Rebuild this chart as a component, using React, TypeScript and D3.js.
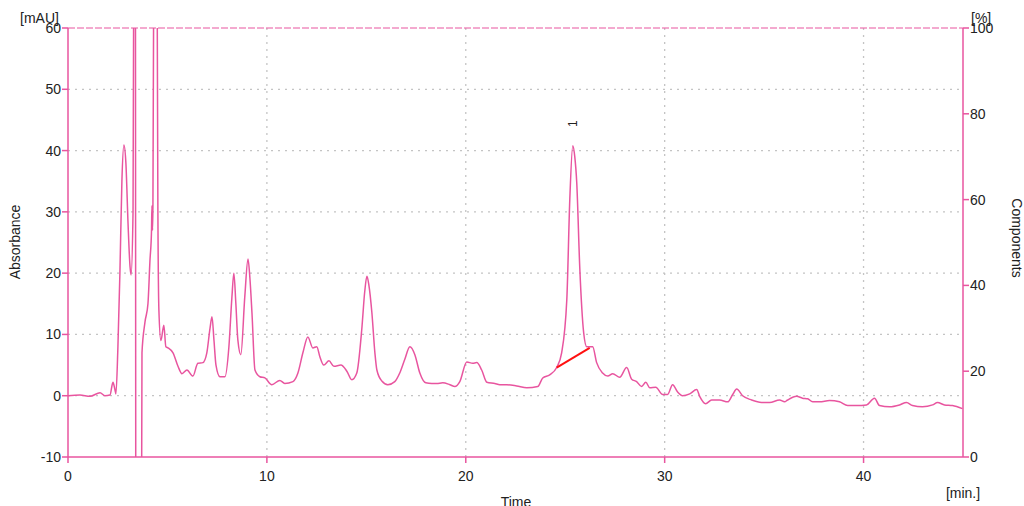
import React from "react";
import * as d3 from "d3";

// Chromatogram trace: retention time (min) and absorbance (mAU)
const times = [
  0.0, 0.6, 1.11, 1.61, 1.86, 2.11, 2.26, 2.36, 2.41, 2.51, 2.61, 2.71, 2.81, 2.91, 3.02, 3.12, 3.17, 3.27,
  3.32, 3.37, 3.42, 3.67, 3.72, 3.87, 4.02, 4.12, 4.2, 4.22, 4.25, 4.27, 4.32, 4.37, 4.47, 4.52, 4.57, 4.67,
  4.82, 4.92, 5.03, 5.28, 5.53, 5.73, 5.98, 6.28, 6.53, 6.78, 6.98, 7.14, 7.24, 7.34, 7.44, 7.64, 7.89, 8.09,
  8.24, 8.34, 8.44, 8.54, 8.69, 8.89, 9.05, 9.15, 9.25, 9.4, 9.65, 9.9, 10.25, 10.65, 10.9, 11.31, 11.56,
  11.81, 12.06, 12.31, 12.51, 12.66, 12.86, 13.12, 13.37, 13.72, 14.02, 14.27, 14.52, 14.77, 14.92, 15.03,
  15.13, 15.28, 15.43, 15.53, 15.78, 16.08, 16.43, 16.68, 16.93, 17.19, 17.44, 17.69, 17.99, 18.29, 18.54,
  18.84, 19.2, 19.45, 19.7, 20.05, 20.35, 20.55, 20.8, 21.06, 21.46, 21.71, 22.06, 22.56, 23.07, 23.62,
  23.87, 24.22, 24.57, 24.82, 25.08, 25.23, 25.38, 25.48, 25.58, 25.73, 25.93, 26.08, 26.38, 26.58, 26.88,
  27.14, 27.39, 27.74, 28.09, 28.34, 28.59, 28.84, 29.05, 29.25, 29.55, 29.9, 30.15, 30.4, 30.65, 30.9,
  31.26, 31.61, 31.76, 32.06, 32.36, 32.76, 33.17, 33.42, 33.62, 33.92, 34.37, 34.87, 35.28, 35.78, 36.03,
  36.18, 36.63, 36.93, 37.19, 37.44, 37.79, 38.29, 38.79, 39.2, 39.65, 40.15, 40.55, 40.8, 41.31, 41.81,
  42.16, 42.46, 42.96, 43.47, 43.72, 44.07, 44.47, 44.97,
];
const absorbance = [
  0.0, 0.1, -0.1, 0.5, 0.0, 0.1, 2.2, 1.0, 0.3, 8, 20, 35, 40.9, 38, 28, 21, 19.7, 30,
  90, 150, -50, -50, 7, 12, 15, 22, 27, 31, 27, 31, 80, 120, 80, 30, 14, 9,
  11.5, 8, 7.8, 7.0, 4.8, 3.6, 4.2, 3.2, 5.3, 5.4, 7.0, 11, 12.9, 9, 5, 3.1, 3.1, 8.0,
  16, 20.0, 15, 9.1, 6.7, 16.2, 22.3, 19, 13.5, 4.2, 3.1, 2.9, 1.8, 2.5, 2.0, 2.3, 3.7,
  7.0, 9.6, 7.8, 8.0, 6.4, 5.0, 5.7, 4.8, 5.0, 4.0, 2.6, 3.7, 10.8, 17, 19.5,
  18, 13.5, 7, 4.2, 2.4, 1.8, 2.3, 3.7, 5.9, 8.0, 6.7, 3.7, 2.1, 2.0, 2.0,
  2.1, 1.8, 1.5, 2.3, 5.5, 5.3, 5.4, 4.2, 2.2, 2.0, 1.8, 1.8, 1.6, 1.3, 1.5,
  2.9, 3.4, 4.6, 7.0, 15.7, 32, 40.8, 39, 34.7, 21, 10.2, 8.0, 8.0, 5.4, 3.7,
  3.2, 3.6, 3.0, 4.6, 2.7, 2.3, 1.5, 2.2, 1.3, 1.4, 0.2, 0.2, 1.8, 0.6, 0.0,
  0.3, 1.0, -0.1, -1.3, -0.7, -0.7, -1.0, 0.2, 1.1, 0.0, -0.7, -1.1, -1.1, -0.7, -1.0,
  -0.7, -0.1, -0.4, -0.5, -1.0, -1.0, -0.8, -1.0, -1.6, -1.6, -1.5, -0.4, -1.6, -1.8, -1.5,
  -1.1, -1.6, -1.8, -1.5, -1.1, -1.5, -1.6, -2.1,
];

// Integration baseline of peak 1
const baselineTimes = [24.57, 26.23];
const baselineValues = [4.6, 7.8];

// Labelled peak
const peakNames = ["1"];
const peakTimes = [25.38];
const peakHeights = [40.8];

const xTicks = [0, 10, 20, 30, 40];
const yTicks = [-10, 0, 10, 20, 30, 40, 50, 60];
const yRightTicks = [0, 20, 40, 60, 80, 100];

const W = 1024;
const H = 506;
const M = { left: 68, right: 61, top: 28, bottom: 49 };
const PINK = "#e8559f";
const TEXT = "#222";
const FONT = "Liberation Sans, Arial, sans-serif";
const FS = 14;

export default function App() {
  const x = d3.scaleLinear().domain([0, 45]).range([M.left, W - M.right]);
  const y = d3.scaleLinear().domain([-10, 60]).range([H - M.bottom, M.top]);
  const yR = d3.scaleLinear().domain([0, 100]).range([H - M.bottom, M.top]);

  const pts = times.map((t, i) => [t, absorbance[i]] as [number, number]);
  const line = d3
    .line<[number, number]>()
    .x((d) => x(d[0]))
    .y((d) => y(d[1]))
    .curve(d3.curveMonotoneX);

  const baseLine = d3
    .line<number>()
    .x((_, i) => x(baselineTimes[i]))
    .y((d) => y(d))(baselineValues);

  const x0 = M.left;
  const x1 = W - M.right;
  const y0 = H - M.bottom;
  const y1 = M.top;

  return (
    <svg
      width={W}
      height={H}
      style={{ position: "absolute", left: 0, top: 0, background: "#fff" }}
      fontFamily={FONT}
    >
      <defs>
        <clipPath id="plot">
          <rect x={x0} y={y1} width={x1 - x0} height={y0 - y1} />
        </clipPath>
      </defs>

      {/* grid */}
      {yTicks
        .filter((v) => v > -10 && v < 60)
        .map((v) => (
          <line
            key={"gy" + v}
            x1={x0}
            x2={x1}
            y1={y(v)}
            y2={y(v)}
            stroke="#c4c4c4"
            strokeWidth={1.3}
            strokeDasharray="2 5"
          />
        ))}
      {xTicks
        .filter((v) => v > 0)
        .map((v) => (
          <line
            key={"gx" + v}
            x1={x(v)}
            x2={x(v)}
            y1={y0}
            y2={y1}
            stroke="#c4c4c4"
            strokeWidth={1.3}
            strokeDasharray="2 5"
          />
        ))}

      {/* top border */}
      <line x1={x0} x2={x1} y1={y1} y2={y1} stroke={PINK} strokeWidth={1} strokeDasharray="7 2" />

      {/* trace */}
      <g clipPath="url(#plot)">
        <path d={line(pts) ?? ""} fill="none" stroke={PINK} strokeWidth={1.5} strokeLinejoin="round" />
        <path d={baseLine ?? ""} fill="none" stroke="#ff1010" strokeWidth={2} />
      </g>

      {/* axes */}
      <line x1={x0} x2={x0} y1={y0} y2={y1} stroke={PINK} strokeWidth={1.5} />
      <line x1={x1} x2={x1} y1={y0} y2={y1} stroke={PINK} strokeWidth={1.5} />
      <line x1={x0} x2={x1} y1={y0} y2={y0} stroke={PINK} strokeWidth={1.5} />

      {yTicks.map((v) => (
        <g key={"ly" + v}>
          <line x1={x0 - 6} x2={x0} y1={y(v)} y2={y(v)} stroke={PINK} strokeWidth={1.5} />
          <text x={x0 - 7} y={y(v)} dy="0.36em" textAnchor="end" fontSize={FS} fill={TEXT}>
            {v}
          </text>
        </g>
      ))}
      {yRightTicks.map((v) => (
        <g key={"ry" + v}>
          <line x1={x1} x2={x1 + 6} y1={yR(v)} y2={yR(v)} stroke={PINK} strokeWidth={1.5} />
          <text x={x1 + 7} y={yR(v)} dy="0.36em" textAnchor="start" fontSize={FS} fill={TEXT}>
            {v}
          </text>
        </g>
      ))}
      {xTicks.map((v) => (
        <g key={"lx" + v}>
          <line x1={x(v)} x2={x(v)} y1={y0} y2={y0 + 6} stroke={PINK} strokeWidth={1.5} />
          <text x={x(v)} y={y0 + 19} dy="0.36em" textAnchor="middle" fontSize={FS} fill={TEXT}>
            {v}
          </text>
        </g>
      ))}

      {/* units and titles */}
      <text x={20} y={23} fontSize={FS} fill={TEXT}>
        [mAU]
      </text>
      <text x={971} y={23} fontSize={FS} fill={TEXT}>
        [%]
      </text>
      <text x={x1} y={498} textAnchor="middle" fontSize={FS} fill={TEXT}>
        [min.]
      </text>
      <text x={516} y={507} textAnchor="middle" fontSize={FS} fill={TEXT}>
        Time
      </text>
      <text
        transform={`translate(20, 242) rotate(-90)`}
        textAnchor="middle"
        fontSize={FS}
        fill={TEXT}
      >
        Absorbance
      </text>
      <text
        transform={`translate(1012, 238) rotate(90)`}
        textAnchor="middle"
        fontSize={FS}
        fill={TEXT}
      >
        Components
      </text>

      {/* peak labels */}
      {peakNames.map((name, i) => (
        <text
          key={name}
          transform={`translate(${x(peakTimes[i])}, ${y(peakHeights[i]) - 22}) rotate(-90)`}
          textAnchor="middle"
          dy="0.36em"
          fontSize={12}
          fill={TEXT}
        >
          {name}
        </text>
      ))}
    </svg>
  );
}
